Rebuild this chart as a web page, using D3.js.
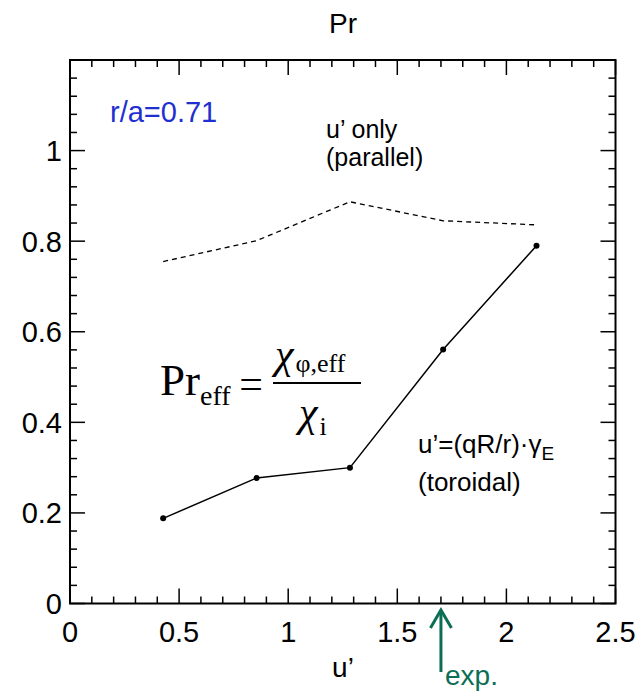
<!DOCTYPE html>
<html>
<head>
<meta charset="utf-8">
<script src="https://cdn.jsdelivr.net/npm/d3@7"></script>
<style>
  html, body { margin: 0; padding: 0; background: #fff; }
  svg { display: block; }
  text { font-family: "Liberation Sans", Arial, Helvetica, sans-serif; }
  .serif { font-family: "Liberation Serif", "Times New Roman", serif; }
</style>
</head>
<body>
<svg id="chart" width="640" height="692"></svg>
<script>
// Shear values u' at which Pr_eff was evaluated
const shearValues = [0.427, 0.855, 1.283, 1.71, 2.138];
// Pr_eff with toroidal flow shear u'=(qR/r)·γE
const prToroidal = [0.188, 0.277, 0.300, 0.561, 0.790];
// Pr_eff with parallel velocity shear u' only
const prParallel = [0.755, 0.801, 0.887, 0.845, 0.836];
// Experimental u'
const expShear = 1.70;
// Tick labels
const xTickLabels = [0, 0.5, 1, 1.5, 2, 2.5];
const yTickLabels = [0, 0.2, 0.4, 0.6, 0.8, 1];

const svg = d3.select("#chart");
const margin = { left: 70, top: 60, right: 615.5, bottom: 603.5 };

const x = d3.scaleLinear().domain([0, 2.5]).range([margin.left, margin.right]);
const y = d3.scaleLinear().domain([0, 1.2]).range([margin.bottom, margin.top]);

const xMinor = d3.range(0, 2.5001, 0.1);
const yMinor = d3.range(0, 1.2001, 0.04);
const isMajorX = v => Math.abs(v / 0.5 - Math.round(v / 0.5)) < 1e-6;
const isMajorY = v => Math.abs(v / 0.2 - Math.round(v / 0.2)) < 1e-6;

// Frame
svg.append("rect")
  .attr("x", margin.left).attr("y", margin.top)
  .attr("width", margin.right - margin.left).attr("height", margin.bottom - margin.top)
  .attr("fill", "none").attr("stroke", "#000").attr("stroke-width", 2);

// Inward ticks on all four sides
const tickG = svg.append("g").attr("stroke", "#000").attr("stroke-width", 1.5);
xMinor.forEach(v => {
  const len = isMajorX(v) ? 15 : 7;
  tickG.append("line").attr("x1", x(v)).attr("x2", x(v))
    .attr("y1", margin.bottom).attr("y2", margin.bottom - len);
  tickG.append("line").attr("x1", x(v)).attr("x2", x(v))
    .attr("y1", margin.top).attr("y2", margin.top + len);
});
yMinor.forEach(v => {
  const len = isMajorY(v) ? 15 : 7;
  tickG.append("line").attr("y1", y(v)).attr("y2", y(v))
    .attr("x1", margin.left).attr("x2", margin.left + len);
  tickG.append("line").attr("y1", y(v)).attr("y2", y(v))
    .attr("x1", margin.right).attr("x2", margin.right - len);
});

// Tick labels
svg.append("g").selectAll("text").data(xTickLabels).join("text")
  .attr("x", d => x(d)).attr("y", 642)
  .attr("text-anchor", "middle").attr("font-size", 29)
  .text(d => d);
svg.append("g").selectAll("text").data(yTickLabels).join("text")
  .attr("x", 62).attr("y", d => y(d) + 10.5)
  .attr("text-anchor", "end").attr("font-size", 29)
  .text(d => d);

// Title and axis label
svg.append("text").attr("x", 343).attr("y", 33).attr("text-anchor", "middle")
  .attr("font-size", 28).text("Pr");
svg.append("text").attr("x", 343).attr("y", 677).attr("text-anchor", "middle")
  .attr("font-size", 28).text("u\u2019");

// Parallel-only curve (dashed)
const line = d3.line().x((d, i) => x(shearValues[i])).y(d => y(d));
svg.append("path").datum(prParallel)
  .attr("d", line).attr("fill", "none")
  .attr("stroke", "#000").attr("stroke-width", 1.3)
  .attr("stroke-dasharray", "5,4");

// Toroidal curve (solid with dots)
svg.append("path").datum(prToroidal)
  .attr("d", line).attr("fill", "none")
  .attr("stroke", "#000").attr("stroke-width", 1.5);
svg.append("g").selectAll("circle").data(prToroidal).join("circle")
  .attr("cx", (d, i) => x(shearValues[i])).attr("cy", d => y(d))
  .attr("r", 3).attr("fill", "#000");

// Annotations
svg.append("text").attr("x", 110).attr("y", 122).attr("font-size", 29)
  .attr("fill", "#1f2fd0").text("r/a=0.71");

svg.append("text").attr("x", 326).attr("y", 138).attr("font-size", 25).text("u\u2019 only");
svg.append("text").attr("x", 326).attr("y", 166).attr("font-size", 25).text("(parallel)");

const tor = svg.append("text").attr("x", 418).attr("y", 453).attr("font-size", 26);
tor.append("tspan").text("u\u2019=(qR/r)\u00b7\u03b3");
tor.append("tspan").attr("font-size", 19).attr("dy", 7).text("E");
svg.append("text").attr("x", 418).attr("y", 491).attr("font-size", 26).text("(toroidal)");

// Pr_eff formula
const f = svg.append("g").attr("class", "serif");
const pr = f.append("text").attr("class", "serif").attr("x", 160).attr("y", 395).attr("font-size", 45);
pr.append("tspan").text("Pr");
pr.append("tspan").attr("font-size", 28).attr("dy", 10).text("eff");
f.append("text").attr("class", "serif").attr("x", 251).attr("y", 398)
  .attr("text-anchor", "middle").attr("font-size", 42).text("=");
f.append("line").attr("x1", 273).attr("x2", 361).attr("y1", 383).attr("y2", 383)
  .attr("stroke", "#000").attr("stroke-width", 1.8);
const num = f.append("text").attr("class", "serif").attr("x", 275).attr("y", 368).attr("font-size", 42);
num.append("tspan").attr("font-style", "italic").text("\u03c7");
num.append("tspan").attr("font-size", 26).attr("dy", 4).attr("dx", 2).text("\u03c6,eff");
const den = f.append("text").attr("class", "serif").attr("x", 299).attr("y", 426).attr("font-size", 42);
den.append("tspan").attr("font-style", "italic").text("\u03c7");
den.append("tspan").attr("font-size", 26).attr("dy", 9).attr("dx", 2).text("i");

// Experimental marker arrow
const green = "#0b6e55";
const ax = x(expShear);
svg.append("line").attr("x1", ax).attr("x2", ax).attr("y1", 611).attr("y2", 672)
  .attr("stroke", green).attr("stroke-width", 3);
svg.append("path")
  .attr("d", `M${ax - 10.5},628 L${ax},610 L${ax + 10.5},628`)
  .attr("fill", "none").attr("stroke", green).attr("stroke-width", 3)
  .attr("stroke-linejoin", "miter");
svg.append("text").attr("x", 445).attr("y", 685).attr("font-size", 28)
  .attr("fill", green).text("exp.");
</script>
</body>
</html>
